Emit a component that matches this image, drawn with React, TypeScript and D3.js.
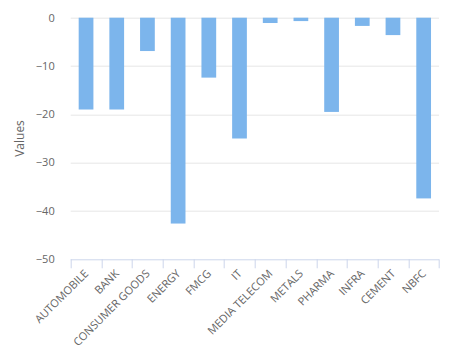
import { useMemo } from "react";
import * as d3 from "d3";

const WIDTH = 457;
const HEIGHT = 351;
const MARGIN = { top: 17.7, right: 18, bottom: 91.7, left: 70.7 };

const categories = [
  "AUTOMOBILE", "BANK", "CONSUMER GOODS", "ENERGY", "FMCG", "IT",
  "MEDIA TELECOM", "METALS", "PHARMA", "INFRA", "CEMENT", "NBFC",
];
const values = [-19.0, -19.0, -6.9, -42.6, -12.4, -25.0, -1.1, -0.7, -19.5, -1.7, -3.6, -37.4];
const yTicks = [0, -10, -20, -30, -40, -50];

const FONT = "'Open Sans', 'DejaVu Sans', sans-serif";

export default function App() {
  const boundsWidth = WIDTH - MARGIN.left - MARGIN.right;
  const boundsHeight = HEIGHT - MARGIN.top - MARGIN.bottom;

  const xScale = useMemo(() => d3.scaleBand()
    .domain(categories)
    .range([0, boundsWidth])
    .paddingInner(0)
    .paddingOuter(0), [boundsWidth]);

  const yScale = useMemo(() => d3.scaleLinear()
    .domain([-50, 0])
    .range([boundsHeight, 0]), [boundsHeight]);

  const step = xScale.step();
  const barWidth = step * 0.6 * 0.8;

  return (
    <div style={{ position: "absolute", left: 0, top: 0 }}>
      <svg width={WIDTH} height={HEIGHT} style={{ display: "block", fontFamily: FONT }}>
        <rect width={WIDTH} height={HEIGHT} fill="#ffffff" />
        <g transform={`translate(${MARGIN.left}, ${MARGIN.top})`}>
          {yTicks.map(t => (
            <g key={t}>
              {t !== -50 && (
                <line x1={0} x2={boundsWidth} y1={Math.round(yScale(t)) + 0.5} y2={Math.round(yScale(t)) + 0.5}
                  stroke="#e6e6e6" strokeWidth={1} />
              )}
              <text x={-16} y={yScale(t)} dy="0.35em" textAnchor="end" fontSize={11} fill="#666666">
                {t === 0 ? "0" : `−${Math.abs(t)}`}
              </text>
            </g>
          ))}
          {values.map((v, i) => {
            const cx = (xScale(categories[i]) || 0) + step / 2;
            return (
              <rect key={categories[i]} x={cx - barWidth / 2} y={yScale(0)} width={barWidth}
                height={yScale(v) - yScale(0)} fill="#7cb5ec" />
            );
          })}
          <line x1={0} x2={boundsWidth} y1={boundsHeight + 0.5} y2={boundsHeight + 0.5} stroke="#ccd6eb" />
          {d3.range(categories.length + 1).map(i => (
            <line key={i} x1={Math.round(i * step) + 0.5} x2={Math.round(i * step) + 0.5}
              y1={boundsHeight} y2={boundsHeight + 9} stroke="#ccd6eb" />
          ))}
          {categories.map(c => {
            const cx = (xScale(c) || 0) + step / 2;
            return (
              <text key={c} transform={`translate(${cx + 3}, ${boundsHeight + 15}) rotate(-45)`}
                textAnchor="end" fontSize={11} fill="#666666">
                {c}
              </text>
            );
          })}
        </g>
        <text transform={`translate(24, ${MARGIN.top + boundsHeight / 2}) rotate(-90)`}
          textAnchor="middle" fontSize={12} fill="#666666">
          Values
        </text>
      </svg>
    </div>
  );
}
